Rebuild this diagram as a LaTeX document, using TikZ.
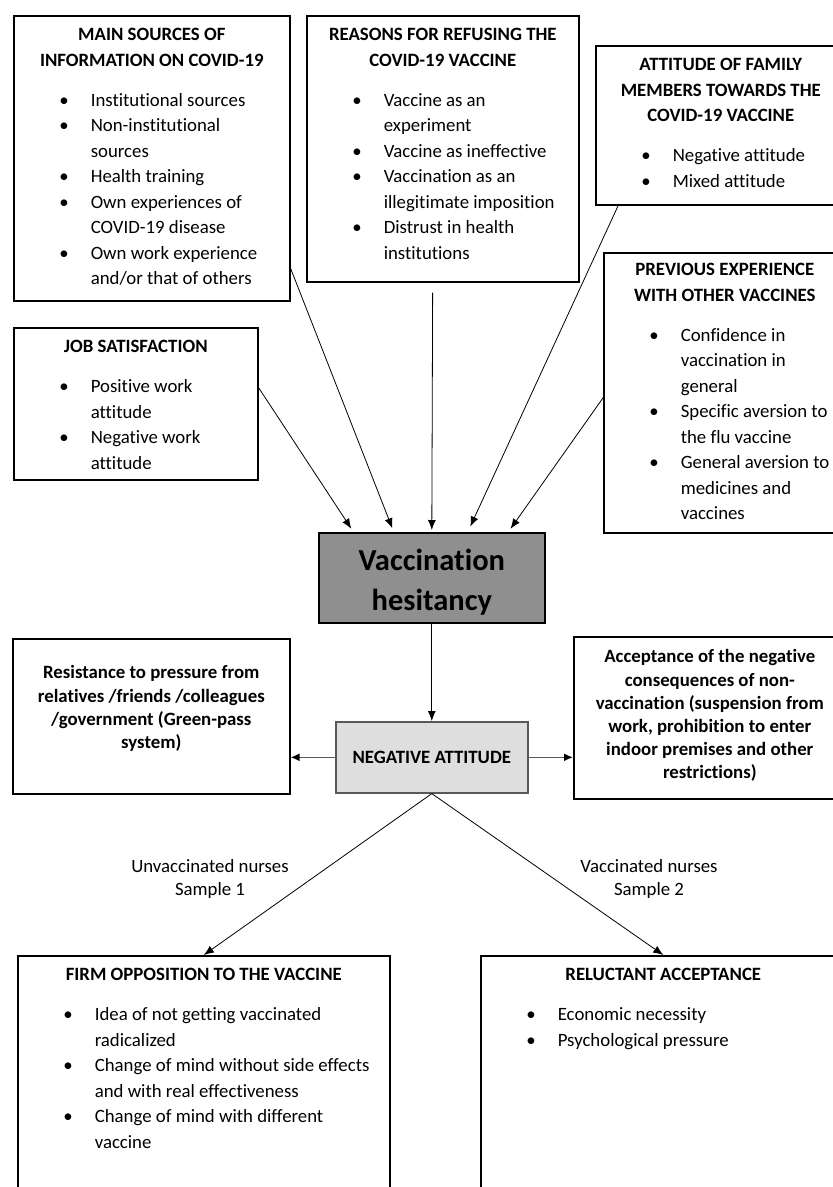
\documentclass[tikz,border=0pt]{standalone}
\usepackage{fontspec}
\setmainfont[Ligatures={NoCommon,NoContextual}]{Carlito}
\usepackage{enumitem}
\usetikzlibrary{arrows.meta,calc}

\definecolor{hesgray}{HTML}{8F8F8F}
\definecolor{neggray}{HTML}{DEDEDE}
\definecolor{linegray}{HTML}{595959}

\setlist[itemize]{label=\textbullet,leftmargin=77pt,labelsep=22pt,labelwidth=10pt,nosep}
% width, height, first baseline, heading, items
\newcommand{\listbox}[5]{\begin{minipage}[t][#2][t]{#1}{\centering\bfseries\rule{0pt}{#3}#4\par}\vspace{14.5pt}\raggedright
\begin{itemize}#5\end{itemize}\end{minipage}}
% width, height, first baseline, text
\newcommand{\textblock}[4]{\begin{minipage}[t][#2][t]{#1}\centering\rule{0pt}{#3}#4\par\end{minipage}}

\tikzset{
  box/.style={draw,line width=1.6pt,inner sep=0pt,anchor=north west,font=\fontsize{18.8}{25.5}\selectfont},
  arr/.style={-{Latex[length=10pt,width=8pt]},line width=0.8pt},
  sidearr/.style={-{Latex[length=9pt,width=8pt,black]},line width=1.5pt,draw=linegray},
  lbl/.style={align=center,font=\fontsize{18.8}{23}\selectfont}
}

\begin{document}
\begin{tikzpicture}[x=1pt,y=-1pt]
\useasboundingbox (0,0) rectangle (833,1187);
\node[box] (mainsrc) at (13,15) {\listbox{276pt}{285pt}{25pt}{MAIN SOURCES OF\\INFORMATION ON COVID-19}{\item Institutional sources \item Non-institutional\\sources \item Health training \item Own experiences of\\COVID-19 disease \item Own work experience\\and/or that of others}};
\node[box] (reasons) at (306,15) {\listbox{272pt}{266pt}{25pt}{REASONS FOR REFUSING THE\\COVID-19 VACCINE}{\item Vaccine as an\\experiment \item Vaccine as ineffective \item Vaccination as an\\illegitimate imposition \item Distrust in health\\institutions}};
\node[box] (family) at (595,45) {\listbox{250pt}{159pt}{25pt}{ATTITUDE OF FAMILY\\MEMBERS TOWARDS THE\\COVID-19 VACCINE}{\item Negative attitude \item Mixed attitude}};
\node[box] (prevexp) at (603,252) {\listbox{242pt}{280pt}{23pt}{PREVIOUS EXPERIENCE\\WITH OTHER VACCINES}{\item Confidence in\\vaccination in\\general \item Specific aversion to\\the flu vaccine \item General aversion to\\medicines and\\vaccines}};
\node[box] (jobsat) at (13,327) {\listbox{244pt}{152pt}{25pt}{JOB SATISFACTION}{\item Positive work\\attitude \item Negative work\\attitude}};

\node[box,fill=hesgray] (hes) at (318,532) {\textblock{226pt}{90pt}{38pt}{\fontsize{30.5}{40}\selectfont\bfseries Vaccination\\hesitancy}};
\node[box,fill=neggray,draw=linegray] (neg) at (335,721) {\textblock{192pt}{71pt}{42pt}{\bfseries NEGATIVE ATTITUDE}};
\node[box] (resist) at (12,638) {\textblock{277pt}{155pt}{40pt}{\fontsize{18.8}{23.3}\selectfont\bfseries Resistance to pressure from\\relatives /friends /colleagues\\/government (Green-pass\\system)}};
\node[box] (accept) at (573,636) {\textblock{272pt}{162pt}{26pt}{\fontsize{18.8}{23.2}\selectfont\bfseries Acceptance of the negative\\consequences of non-\\vaccination (suspension from\\work, prohibition to enter\\indoor premises and other\\restrictions)}};

\node[box] (firm) at (17,955) {\listbox{372pt}{260pt}{25pt}{FIRM OPPOSITION TO THE VACCINE}{\item Idea of not getting vaccinated\\radicalized \item Change of mind without side effects\\and with real effectiveness \item Change of mind with different\\vaccine}};
\node[box] (reluc) at (480,955) {\listbox{365pt}{260pt}{25pt}{RELUCTANT ACCEPTANCE}{\item Economic necessity \item Psychological pressure}};

\node[lbl] (unvac) at (210,879) {Unvaccinated nurses\\Sample 1};
\node[lbl] (vac) at (649,879) {Vaccinated nurses\\Sample 2};

\draw[arr,shorten >=4pt] ($(jobsat.north east)!0.395!(jobsat.south east)$) -- ($(hes.north west)!0.156!(hes.north east)$);
\draw[arr,shorten >=4pt] ($(mainsrc.north east)!0.884!(mainsrc.south east)$) -- ($(hes.north west)!0.333!(hes.north east)$);
\draw[arr,shorten <=10pt,shorten >=2pt] ($(reasons.south west)!0.463!(reasons.south east)$) -- ($(hes.north west)!0.50!(hes.north east)$);
\draw[arr,shorten >=6pt] ($(family.south west)!0.092!(family.south east)$) -- ($(hes.north west)!0.658!(hes.north east)$);
\draw[arr,shorten >=4pt] ($(prevexp.north west)!0.518!(prevexp.south west)$) -- ($(hes.north west)!0.836!(hes.north east)$);

\draw[arr] (hes.south) -- (neg.north);
\draw[sidearr] (neg.west) -- (neg.west -| resist.east);
\draw[sidearr] (neg.east) -- (neg.east -| accept.west);
\draw[arr] (neg.south) -- (firm.north);
\draw[arr] (neg.south) -- (reluc.north);
\end{tikzpicture}
\end{document}
